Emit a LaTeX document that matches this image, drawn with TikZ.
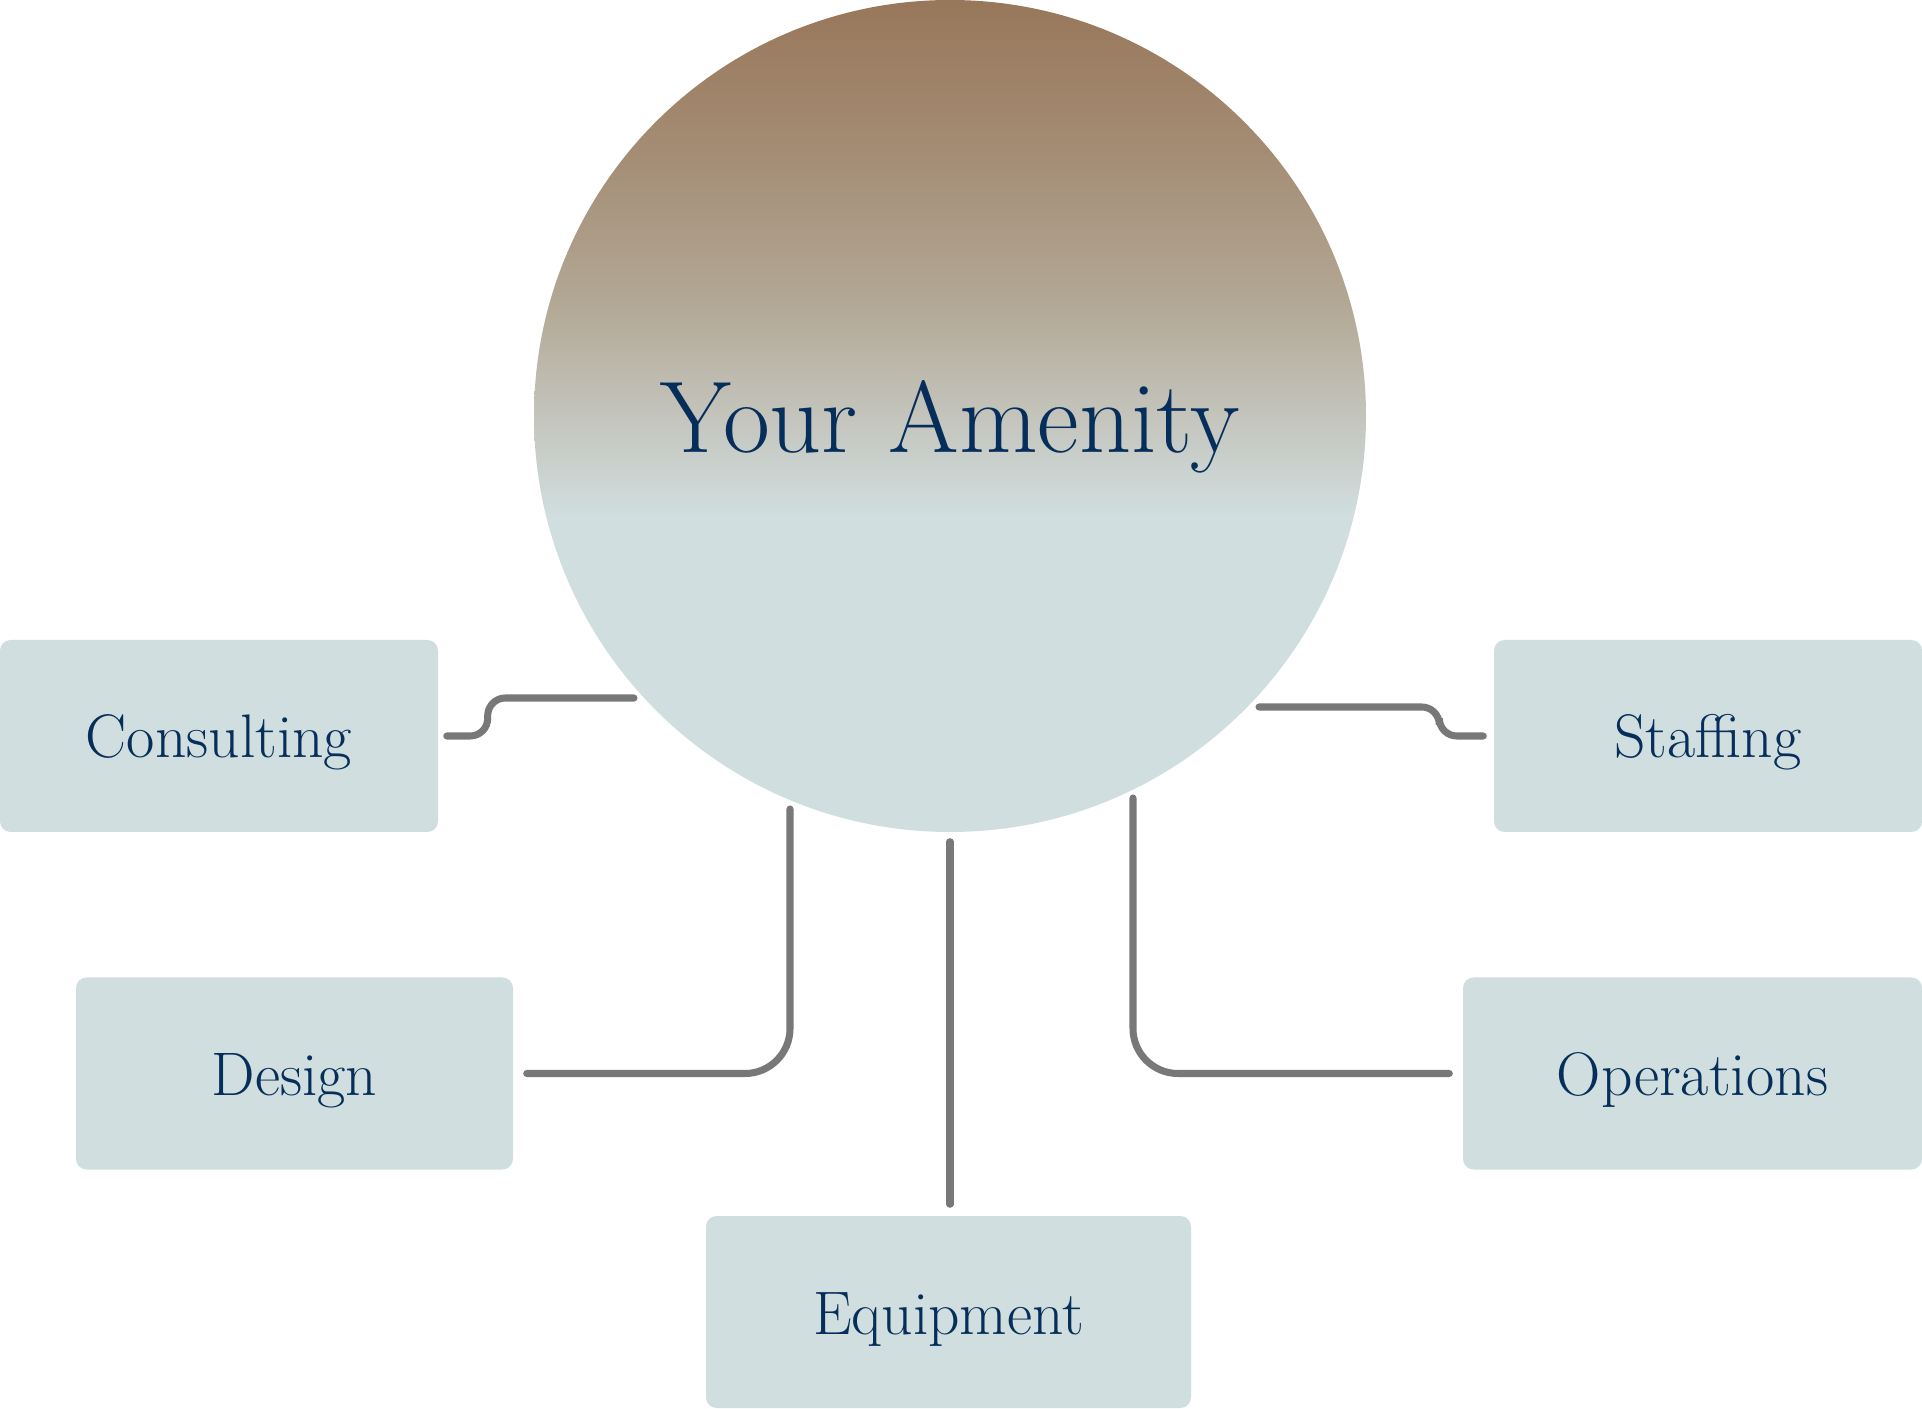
\documentclass[tikz,border=0pt]{standalone}
\usepackage{tikz}
\usetikzlibrary{calc}
\usepackage{xcolor}
\definecolor{navy}{RGB}{6,46,90}
\definecolor{boxblue}{RGB}{208,222,223}
\definecolor{linegray}{RGB}{120,120,120}
\definecolor{bronze}{RGB}{152,119,90}
\definecolor{sand}{RGB}{164,140,116}
\definecolor{stone}{RGB}{178,167,148}
\definecolor{mist}{RGB}{196,196,188}
\pgfdeclareverticalshading{amenityshade}{100bp}{color(0bp)=(boxblue); color(44bp)=(boxblue);
  color(50bp)=(mist); color(57bp)=(stone); color(66bp)=(sand); color(75bp)=(bronze); color(100bp)=(bronze)}

\begin{document}
\begin{tikzpicture}[
    box/.style={fill=boxblue, rounded corners=3pt, minimum height=1.92cm, inner sep=0pt,
                text height=0.44cm, text depth=0cm, text=navy, font=\fontsize{17.5}{20}\selectfont},
    conn/.style={draw=linegray, line width=2pt, line cap=round}
]
\useasboundingbox (0,0) rectangle (19.22,14.08);
\node[circle, shading=amenityshade, minimum size=8.32cm, inner sep=0pt] (hub) at (9.5,9.92) {};
\node[anchor=base, text=navy, font=\fontsize{29}{33}\selectfont] (title) at (9.5,9.55) {Your Amenity};

\node[box, minimum width=4.38cm] (consulting) at (2.19,6.72) {Consulting};
\node[box, minimum width=4.28cm] (staffing) at (17.08,6.72) {Staffing};
\node[box, minimum width=4.37cm] (design) at (2.945,3.345) {Design};
\node[box, minimum width=4.59cm] (operations) at (16.925,3.345) {Operations};
\node[box, minimum width=4.85cm] (equipment) at (9.485,0.96) {Equipment};

\coordinate (c1) at ($(consulting.east)+(0.08,0)$);
\coordinate (c2) at ($(hub.center)+(-3.16,-2.82)$);
\coordinate (s1) at ($(hub.center)+(3.09,-2.91)$);
\coordinate (s2) at ($(staffing.west)+(-0.1,0)$);
\coordinate (d1) at ($(design.east)+(0.13,0)$);
\coordinate (d2) at ($(hub.center)+(-1.6,-3.93)$);
\coordinate (o1) at ($(hub.center)+(1.83,-3.82)$);
\coordinate (o2) at ($(operations.west)+(-0.13,0)$);

\draw[conn, rounded corners=5pt] (c1) -- ++(0.41,0) |- (c2);
\draw[conn, rounded corners=5pt] (s1) -| ([xshift=-0.44cm]s2) -- (s2);
\draw[conn, rounded corners=0.45cm] (d1) -| (d2);
\draw[conn] ([yshift=-0.09cm]hub.south) -- ([yshift=0.11cm]hub.south |- equipment.north);
\draw[conn, rounded corners=0.45cm] (o1) |- (o2);
\end{tikzpicture}
\end{document}
